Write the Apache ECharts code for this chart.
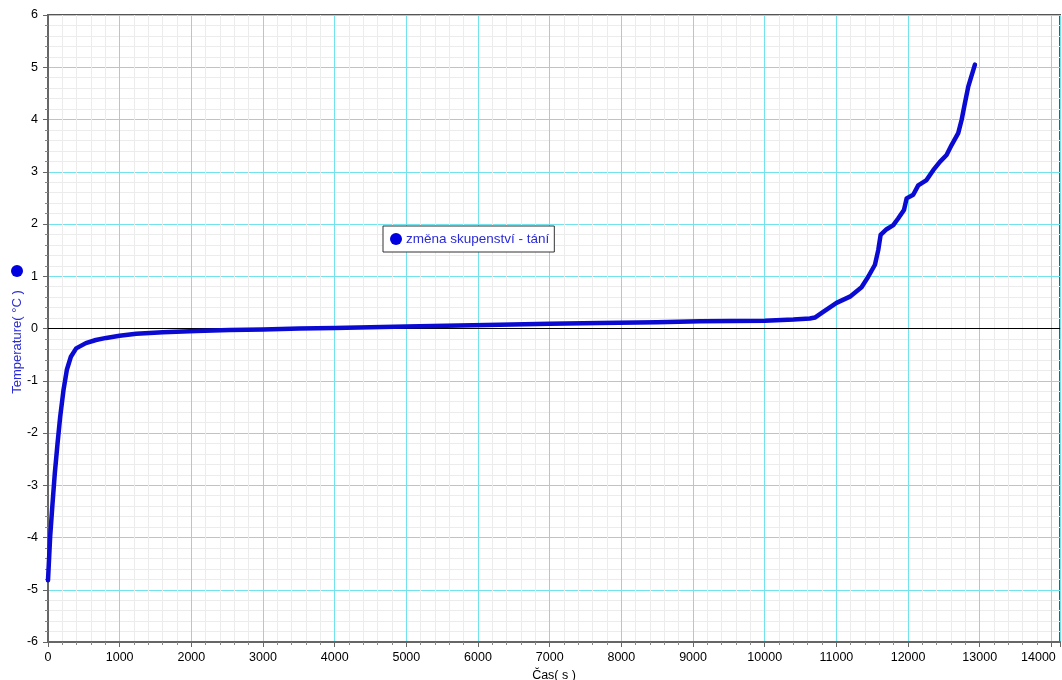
<!DOCTYPE html>
<html>
<head>
<meta charset="utf-8">
<script src="https://cdn.jsdelivr.net/npm/echarts@6/dist/echarts.min.js"></script>
<style>html,body{margin:0;padding:0;background:#fff;}#c{width:1062px;height:680px;}</style>
</head>
<body>
<div id="c"></div>
<script>
const seriesName = 'změna skupenství - tání';
const xAxisName = 'Čas( s )';
const yAxisName = 'Temperature( °C )';
const timeS = [0, 30, 63, 95, 133, 170, 216, 263, 319, 393, 528, 668, 812, 998, 1231, 1603, 2068, 2533, 3000, 3512, 4000, 5000, 6300, 7000, 7700, 8500, 9100, 10000, 10400, 10630, 10700, 10816, 11002, 11189, 11351, 11444, 11538, 11584, 11617, 11701, 11794, 11864, 11943, 11980, 12072, 12142, 12258, 12351, 12444, 12537, 12607, 12700, 12747, 12793, 12840, 12933];
const tempC = [-4.82, -3.99, -3.35, -2.77, -2.2, -1.69, -1.18, -0.79, -0.54, -0.38, -0.28, -0.22, -0.18, -0.14, -0.1, -0.07, -0.05, -0.03, -0.02, 0.0, 0.01, 0.04, 0.07, 0.09, 0.105, 0.12, 0.14, 0.15, 0.17, 0.19, 0.21, 0.32, 0.49, 0.61, 0.79, 0.99, 1.22, 1.5, 1.79, 1.9, 1.98, 2.11, 2.27, 2.49, 2.56, 2.74, 2.84, 3.03, 3.19, 3.32, 3.51, 3.74, 3.99, 4.31, 4.63, 5.05];

const data = timeS.map((t, i) => [t, tempC[i]]);
const font = 'Liberation Sans';
const chart = echarts.init(document.getElementById('c'), null, {renderer: 'canvas'});
chart.setOption({
  animation: false,
  backgroundColor: '#fff',
  textStyle: {fontFamily: font},
  grid: {left: 48, top: 15, right: 2, bottom: 38, show: true, backgroundColor: '#fff', borderColor: '#555', borderWidth: 2, containLabel: false, outerBoundsMode: 'none'},
  legend: {
    left: 383, top: 226, orient: 'horizontal',
    padding: [6, 5, 6, 7], itemWidth: 12, itemHeight: 12, itemGap: 5,
    backgroundColor: '#fff', borderColor: '#333', borderWidth: 1, borderRadius: 0,
    icon: 'circle',
    textStyle: {color: '#2b2bd6', fontSize: 13.5, fontFamily: font, padding: [0, 0, 0, -1]},
    data: [seriesName]
  },
  xAxis: {
    type: 'value', min: 0, max: 14120, interval: 1000,
    name: xAxisName, nameLocation: 'middle', nameGap: 24,
    nameTextStyle: {color: '#000', fontSize: 12.5, fontFamily: font},
    axisLine: {show: true, onZero: false, lineStyle: {color: '#666', width: 2}},
    axisTick: {show: true, length: 5, lineStyle: {color: '#666'}},
    minorTick: {show: true, splitNumber: 5, length: 3, lineStyle: {color: '#888'}},
    axisLabel: {color: '#000', fontSize: 12.5, fontFamily: font, margin: 9,
      formatter: v => (v % 1000 !== 0 ? '' : (v === 14000 ? '{r|' + v + '}' : String(v))),
      rich: {r: {color: '#000', fontSize: 12.5, fontFamily: font, padding: [0, 26, 0, 0]}}},
    splitLine: {show: true, lineStyle: {color: '#72e2ec', width: 1}},
    minorSplitLine: {show: true, lineStyle: {color: '#ececec', width: 1}}
  },
  yAxis: {
    type: 'value', min: -6, max: 6, interval: 1,
    axisLine: {show: true, onZero: false, lineStyle: {color: '#666', width: 2}},
    axisTick: {show: true, length: 5, lineStyle: {color: '#666'}},
    minorTick: {show: true, splitNumber: 5, length: 3, lineStyle: {color: '#888'}},
    axisLabel: {color: '#000', fontSize: 12.5, fontFamily: font, margin: 10},
    splitLine: {show: true, lineStyle: {color: '#72e2ec', width: 1}},
    minorSplitLine: {show: true, lineStyle: {color: '#ececec', width: 1}}
  },
  graphic: [
    {type: 'circle', left: 11, top: 265, shape: {r: 6}, style: {fill: '#0000e0'}},
    {type: 'text', x: 17, y: 342, rotation: Math.PI / 2,
      style: {text: yAxisName, fill: '#2b2bd6', font: '13px "' + font + '"', align: 'center', verticalAlign: 'middle'}}
  ],
  series: [{
    name: seriesName, type: 'line', data: data, showSymbol: false, smooth: false,
    itemStyle: {color: '#0000e0'},
    lineStyle: {color: '#0a0ad2', width: 4.5, cap: 'round', join: 'round'},
    markLine: {silent: true, symbol: 'none', label: {show: false},
      lineStyle: {color: '#000', width: 1, type: 'solid'},
      data: [{yAxis: 0}]},
    z: 5
  }]
});
</script>
</body>
</html>
